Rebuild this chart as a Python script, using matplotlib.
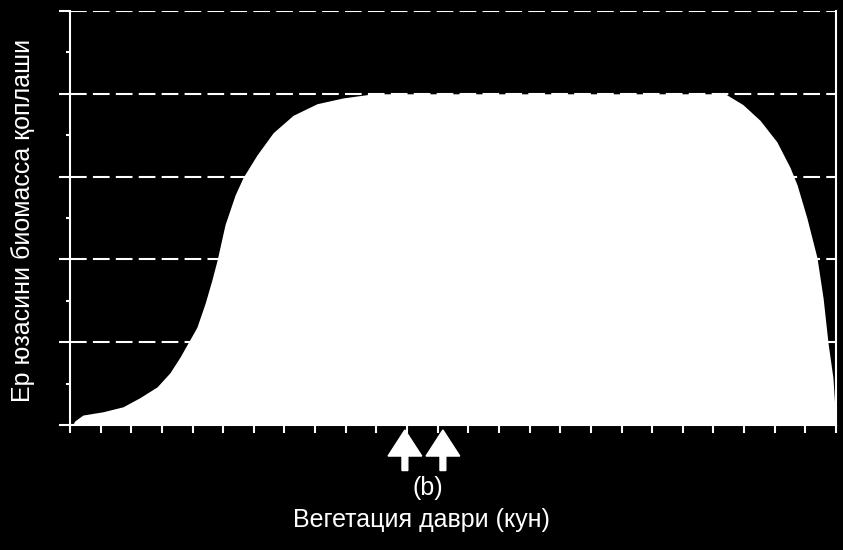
import matplotlib
matplotlib.use("Agg")
import matplotlib.pyplot as plt
from matplotlib.patches import FancyArrow
from matplotlib.transforms import blended_transform_factory
from matplotlib.ticker import MultipleLocator, NullFormatter

plt.rcParams['font.family'] = ['Liberation Sans', 'DejaVu Sans']

# кун (шкала бўлинмалари) ва биомасса қоплаши
kun = [0.08, 0.16, 0.42, 1.08, 1.73, 2.28, 2.84, 3.26, 3.59, 3.85, 4.14, 4.41,
       4.63, 4.80, 5.06, 5.39, 5.65, 6.10, 6.63, 7.28, 8.06, 8.91, 9.89, 10.35,
       21.38, 21.96, 22.52, 23.07, 23.5, 23.73, 24.05, 24.38, 24.58, 24.74,
       24.9, 25.0]
qoplash = [0.0, 0.05, 0.12, 0.16, 0.22, 0.33, 0.46, 0.63, 0.82, 0.99, 1.18,
           1.47, 1.75, 1.99, 2.42, 2.78, 2.99, 3.26, 3.53, 3.74, 3.88, 3.95,
           4.0, 4.0, 4.0, 3.87, 3.68, 3.42, 3.11, 2.9, 2.5, 2.02, 1.53, 0.99,
           0.57, 0.0]

strelka_kun = [10.93, 12.17]

fig = plt.figure(figsize=(8.43, 5.5), dpi=100, facecolor='black')
ax = fig.add_axes([70 / 843, 125 / 550, 766 / 843, 414 / 550])
ax.set_facecolor('black')

ax.set_xlim(0, 25)
ax.set_ylim(0, 5)

ax.fill_between(kun, qoplash, 0, color='white', lw=0, zorder=3)

ax.yaxis.set_major_locator(MultipleLocator(1))
ax.yaxis.set_minor_locator(MultipleLocator(0.5))
ax.xaxis.set_major_locator(MultipleLocator(1))
ax.xaxis.set_major_formatter(NullFormatter())
ax.yaxis.set_major_formatter(NullFormatter())

ax.grid(axis='y', which='major', color='white', lw=1.5, ls=(0, (8, 3)), zorder=1)
ax.set_axisbelow(True)

ax.tick_params(axis='y', which='major', direction='out', length=8, width=1.5, color='white')
ax.tick_params(axis='y', which='minor', direction='out', length=3, width=1.5, color='white')
ax.tick_params(axis='x', which='major', direction='out', length=6, width=1.5, color='white')

for s in ['left', 'right', 'bottom']:
    ax.spines[s].set_color('white')
    ax.spines[s].set_linewidth(1.5)
    ax.spines[s].set_zorder(4)
ax.spines['top'].set_visible(False)

# стрелкалар
tr = blended_transform_factory(ax.transData, ax.transAxes)
for k in strelka_kun:
    ar = FancyArrow(k, -0.11, 0, 0.098, width=0.19, head_width=1.1, head_length=0.063,
                    length_includes_head=True, color='white', transform=tr,
                    clip_on=False, zorder=5)
    ax.add_patch(ar)

fig.text(428 / 843, 1 - 488 / 550, '(b)', color='white', fontsize=18,
         ha='center', va='center')
fig.text(421 / 843, 1 - 520 / 550, 'Вегетация даври (кун)', color='white',
         fontsize=18, ha='center', va='center')
fig.text(23 / 843, 1 - 220 / 550, 'Ер юзасини биомасса қоплаши', color='white',
         fontsize=18, ha='center', va='center', rotation=90)

fig.savefig('out.png', dpi=100, facecolor='black')
